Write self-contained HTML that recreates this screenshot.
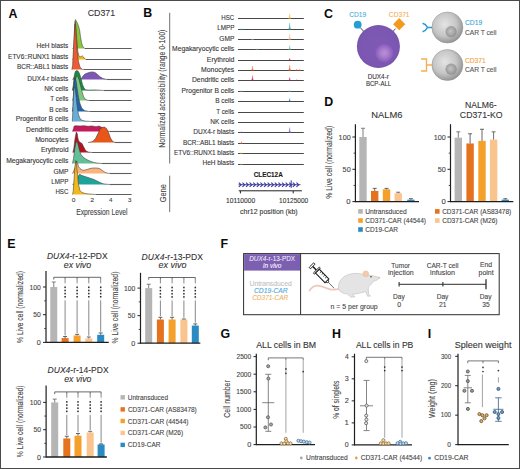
<!DOCTYPE html>
<html><head><meta charset="utf-8"><title>Figure</title>
<style>html,body{margin:0;padding:0;background:#fff;width:520px;height:469px;overflow:hidden}svg{display:block}text{font-family:"Liberation Sans", sans-serif}</style>
</head><body>
<svg width="520" height="469" viewBox="0 0 520 469" font-family="'Liberation Sans', sans-serif">
<rect x="0.00" y="0.00" width="520.00" height="469.00" fill="#fff" />
<text x="8.49" y="17.70" font-size="12.4" font-weight="bold" fill="#0a0a0a">A</text>
<text x="87.76" y="15.90" font-size="8.8" fill="#333" stroke="#333" stroke-width="0.1" >CD371</text>
<text x="36.58" y="48.20" font-size="6.8" fill="#333" textLength="31.75" lengthAdjust="spacingAndGlyphs" stroke="#333" stroke-width="0.1" >HeH blasts</text>
<text x="8.08" y="59.20" font-size="6.8" fill="#333" textLength="60.25" lengthAdjust="spacingAndGlyphs" stroke="#333" stroke-width="0.1" >ETV6::RUNX1 blasts</text>
<text x="16.99" y="69.40" font-size="6.8" fill="#333" textLength="51.33" lengthAdjust="spacingAndGlyphs" stroke="#333" stroke-width="0.1" >BCR::ABL1 blasts</text>
<text x="27.37" y="81.10" font-size="6.8" fill="#333" textLength="40.95" lengthAdjust="spacingAndGlyphs" stroke="#333" stroke-width="0.1" >DUX4-r blasts</text>
<text x="44.28" y="90.70" font-size="6.8" fill="#333" textLength="24.04" lengthAdjust="spacingAndGlyphs" stroke="#333" stroke-width="0.1" >NK cells</text>
<text x="50.37" y="101.30" font-size="6.8" fill="#333" textLength="17.95" lengthAdjust="spacingAndGlyphs" stroke="#333" stroke-width="0.1" >T cells</text>
<text x="49.28" y="111.80" font-size="6.8" fill="#333" textLength="19.05" lengthAdjust="spacingAndGlyphs" stroke="#333" stroke-width="0.1" >B cells</text>
<text x="15.66" y="121.40" font-size="6.8" fill="#333" textLength="52.69" lengthAdjust="spacingAndGlyphs" stroke="#333" stroke-width="0.1" >Progenitor B cells</text>
<text x="26.06" y="132.20" font-size="6.8" fill="#333" stroke="#333" stroke-width="0.1" >Dendritic cells</text>
<text x="35.15" y="141.90" font-size="6.8" fill="#333" textLength="33.19" lengthAdjust="spacingAndGlyphs" stroke="#333" stroke-width="0.1" >Monocytes</text>
<text x="40.95" y="152.40" font-size="6.8" fill="#333" textLength="27.58" lengthAdjust="spacingAndGlyphs" stroke="#333" stroke-width="0.1" >Erythroid</text>
<text x="6.16" y="162.80" font-size="6.8" fill="#333" textLength="62.18" lengthAdjust="spacingAndGlyphs" stroke="#333" stroke-width="0.1" >Megakaryocytic cells</text>
<text x="53.47" y="173.50" font-size="6.8" fill="#333" textLength="14.98" lengthAdjust="spacingAndGlyphs" stroke="#333" stroke-width="0.1" >GMP</text>
<text x="51.30" y="184.00" font-size="6.8" fill="#333" textLength="17.14" lengthAdjust="spacingAndGlyphs" stroke="#333" stroke-width="0.1" >LMPP</text>
<text x="55.41" y="193.70" font-size="6.8" fill="#333" textLength="12.91" lengthAdjust="spacingAndGlyphs" stroke="#333" stroke-width="0.1" >HSC</text>
<path d="M72.50,48.50 L74.30,47.50 L74.90,23.50 L75.40,19.50 L76.50,21.50 L78.00,24.50 L79.50,29.50 L80.50,36.50 L81.50,42.50 L82.50,46.00 L83.80,47.90 L85.00,48.50 L131.50,48.50 Z" fill="#8dc63f" stroke="none"/>
<path d="M72.50,48.50 L74.30,47.50 L74.90,23.50 L75.40,19.50 L76.50,21.50 L78.00,24.50 L79.50,29.50 L80.50,36.50 L81.50,42.50 L82.50,46.00 L83.80,47.90 L85.00,48.50 L131.50,48.50" fill="none" stroke="#3a3a3a" stroke-width="0.55" stroke-linejoin="round"/>
<line x1="85.00" y1="48.50" x2="131.40" y2="48.50" stroke="#5e5e5e" stroke-width="1.1" />
<path d="M72.50,59.50 L73.80,57.50 L74.60,29.50 L75.20,21.50 L75.80,25.50 L76.80,39.50 L77.80,51.50 L79.00,56.00 L80.00,57.00 L81.00,56.50 L82.30,55.90 L83.50,57.00 L84.50,58.50 L86.00,59.50 L131.50,59.50 Z" fill="#f6b81a" stroke="none"/>
<path d="M72.50,59.50 L73.80,57.50 L74.60,29.50 L75.20,21.50 L75.80,25.50 L76.80,39.50 L77.80,51.50 L79.00,56.00 L80.00,57.00 L81.00,56.50 L82.30,55.90 L83.50,57.00 L84.50,58.50 L86.00,59.50 L131.50,59.50" fill="none" stroke="#3a3a3a" stroke-width="0.55" stroke-linejoin="round"/>
<line x1="86.00" y1="59.50" x2="131.40" y2="59.50" stroke="#5e5e5e" stroke-width="1.1" />
<path d="M71.80,69.50 L72.60,65.50 L73.40,49.50 L74.10,35.50 L74.70,26.50 L75.10,24.00 L75.60,28.50 L76.30,39.50 L77.30,52.50 L78.50,61.50 L79.80,66.50 L81.00,68.50 L82.50,69.30 L84.00,69.50 L131.50,69.50 Z" fill="#ef5a32" stroke="none"/>
<path d="M71.80,69.50 L72.60,65.50 L73.40,49.50 L74.10,35.50 L74.70,26.50 L75.10,24.00 L75.60,28.50 L76.30,39.50 L77.30,52.50 L78.50,61.50 L79.80,66.50 L81.00,68.50 L82.50,69.30 L84.00,69.50 L131.50,69.50" fill="none" stroke="#3a3a3a" stroke-width="0.55" stroke-linejoin="round"/>
<line x1="84.00" y1="69.50" x2="131.40" y2="69.50" stroke="#5e5e5e" stroke-width="1.1" />
<path d="M72.50,79.50 L73.50,78.50 L74.50,76.50 L75.50,77.50 L77.00,78.50 L80.00,79.00 L81.50,78.50 L83.00,76.00 L85.00,74.00 L87.50,73.00 L90.00,72.20 L92.50,71.90 L95.00,72.50 L97.50,74.50 L100.00,76.70 L102.50,78.30 L105.00,79.10 L107.00,79.50 L131.50,79.50 Z" fill="#7e57b6" stroke="none"/>
<path d="M72.50,79.50 L73.50,78.50 L74.50,76.50 L75.50,77.50 L77.00,78.50 L80.00,79.00 L81.50,78.50 L83.00,76.00 L85.00,74.00 L87.50,73.00 L90.00,72.20 L92.50,71.90 L95.00,72.50 L97.50,74.50 L100.00,76.70 L102.50,78.30 L105.00,79.10 L107.00,79.50 L131.50,79.50" fill="none" stroke="#3a3a3a" stroke-width="0.55" stroke-linejoin="round"/>
<line x1="107.00" y1="79.50" x2="131.40" y2="79.50" stroke="#5e5e5e" stroke-width="1.1" />
<path d="M72.30,90.50 L73.30,85.50 L74.30,75.50 L75.30,71.50 L76.50,70.50 L78.00,71.00 L79.50,73.50 L81.00,78.50 L82.50,84.50 L84.00,88.00 L85.50,89.70 L88.00,90.10 L95.00,89.90 L100.00,90.20 L104.00,90.50 L131.50,90.50 Z" fill="#1b8a43" stroke="none"/>
<path d="M72.30,90.50 L73.30,85.50 L74.30,75.50 L75.30,71.50 L76.50,70.50 L78.00,71.00 L79.50,73.50 L81.00,78.50 L82.50,84.50 L84.00,88.00 L85.50,89.70 L88.00,90.10 L95.00,89.90 L100.00,90.20 L104.00,90.50 L131.50,90.50" fill="none" stroke="#3a3a3a" stroke-width="0.55" stroke-linejoin="round"/>
<line x1="104.00" y1="90.50" x2="131.40" y2="90.50" stroke="#5e5e5e" stroke-width="1.1" />
<path d="M72.50,100.50 L73.50,97.50 L74.50,87.50 L75.50,79.50 L76.50,76.00 L77.80,76.50 L79.00,79.50 L80.50,85.50 L82.00,91.50 L83.50,96.50 L85.00,99.00 L87.00,100.10 L89.00,100.50 L131.50,100.50 Z" fill="#7fc77e" stroke="none"/>
<path d="M72.50,100.50 L73.50,97.50 L74.50,87.50 L75.50,79.50 L76.50,76.00 L77.80,76.50 L79.00,79.50 L80.50,85.50 L82.00,91.50 L83.50,96.50 L85.00,99.00 L87.00,100.10 L89.00,100.50 L131.50,100.50" fill="none" stroke="#3a3a3a" stroke-width="0.55" stroke-linejoin="round"/>
<line x1="89.00" y1="100.50" x2="131.40" y2="100.50" stroke="#5e5e5e" stroke-width="1.1" />
<path d="M72.30,111.50 L73.00,106.50 L73.80,86.50 L74.50,78.50 L75.30,77.80 L76.20,81.50 L77.30,89.50 L78.50,97.50 L80.00,103.50 L81.50,107.50 L83.00,109.50 L85.00,110.70 L88.00,111.30 L90.00,111.50 L131.50,111.50 Z" fill="#2064aa" stroke="none"/>
<path d="M72.30,111.50 L73.00,106.50 L73.80,86.50 L74.50,78.50 L75.30,77.80 L76.20,81.50 L77.30,89.50 L78.50,97.50 L80.00,103.50 L81.50,107.50 L83.00,109.50 L85.00,110.70 L88.00,111.30 L90.00,111.50 L131.50,111.50" fill="none" stroke="#3a3a3a" stroke-width="0.55" stroke-linejoin="round"/>
<line x1="90.00" y1="111.50" x2="131.40" y2="111.50" stroke="#5e5e5e" stroke-width="1.1" />
<path d="M72.30,121.50 L72.80,111.50 L73.40,95.50 L74.00,88.50 L74.60,87.00 L75.30,89.50 L76.20,97.50 L77.30,107.50 L78.50,114.50 L80.00,118.50 L82.00,120.30 L85.00,121.10 L90.00,121.40 L92.00,121.50 L131.50,121.50 Z" fill="#69acd8" stroke="none"/>
<path d="M72.30,121.50 L72.80,111.50 L73.40,95.50 L74.00,88.50 L74.60,87.00 L75.30,89.50 L76.20,97.50 L77.30,107.50 L78.50,114.50 L80.00,118.50 L82.00,120.30 L85.00,121.10 L90.00,121.40 L92.00,121.50 L131.50,121.50" fill="none" stroke="#3a3a3a" stroke-width="0.55" stroke-linejoin="round"/>
<line x1="92.00" y1="121.50" x2="131.40" y2="121.50" stroke="#5e5e5e" stroke-width="1.1" />
<path d="M72.50,131.50 L73.50,128.50 L74.20,126.00 L76.00,125.70 L80.00,126.00 L84.00,125.70 L88.00,126.30 L92.00,125.90 L96.00,126.70 L99.00,126.00 L101.00,127.00 L103.00,128.00 L105.00,130.00 L107.00,131.00 L110.00,131.50 L131.50,131.50 Z" fill="#c51b5c" stroke="none"/>
<path d="M72.50,131.50 L73.50,128.50 L74.20,126.00 L76.00,125.70 L80.00,126.00 L84.00,125.70 L88.00,126.30 L92.00,125.90 L96.00,126.70 L99.00,126.00 L101.00,127.00 L103.00,128.00 L105.00,130.00 L107.00,131.00 L110.00,131.50 L131.50,131.50" fill="none" stroke="#3a3a3a" stroke-width="0.55" stroke-linejoin="round"/>
<line x1="110.00" y1="131.50" x2="131.40" y2="131.50" stroke="#5e5e5e" stroke-width="1.1" />
<path d="M88.00,142.50 L91.00,142.00 L93.00,141.30 L95.50,138.50 L98.00,133.50 L100.00,129.50 L102.00,127.50 L104.50,127.00 L106.50,128.50 L108.50,132.50 L110.50,138.00 L112.50,141.30 L115.00,142.50 L131.50,142.50 Z" fill="#e8561a" stroke="none"/>
<path d="M88.00,142.50 L91.00,142.00 L93.00,141.30 L95.50,138.50 L98.00,133.50 L100.00,129.50 L102.00,127.50 L104.50,127.00 L106.50,128.50 L108.50,132.50 L110.50,138.00 L112.50,141.30 L115.00,142.50 L131.50,142.50" fill="none" stroke="#3a3a3a" stroke-width="0.55" stroke-linejoin="round"/>
<line x1="115.00" y1="142.50" x2="131.40" y2="142.50" stroke="#5e5e5e" stroke-width="1.1" />
<path d="M72.80,152.50 L73.80,148.50 L75.00,138.50 L76.30,132.00 L77.20,133.50 L78.00,138.50 L79.00,141.50 L80.50,142.50 L82.00,143.50 L83.50,146.50 L85.00,149.50 L86.50,151.30 L88.50,152.10 L92.00,152.50 L131.50,152.50 Z" fill="#b5121f" stroke="none"/>
<path d="M72.80,152.50 L73.80,148.50 L75.00,138.50 L76.30,132.00 L77.20,133.50 L78.00,138.50 L79.00,141.50 L80.50,142.50 L82.00,143.50 L83.50,146.50 L85.00,149.50 L86.50,151.30 L88.50,152.10 L92.00,152.50 L131.50,152.50" fill="none" stroke="#3a3a3a" stroke-width="0.55" stroke-linejoin="round"/>
<line x1="92.00" y1="152.50" x2="131.40" y2="152.50" stroke="#5e5e5e" stroke-width="1.1" />
<path d="M72.50,163.50 L73.50,158.50 L74.80,148.50 L76.00,142.50 L77.20,141.50 L78.30,145.50 L79.50,150.50 L81.00,154.50 L83.00,157.00 L85.00,158.50 L88.00,160.20 L91.00,161.50 L94.00,162.50 L97.00,163.10 L100.00,163.30 L102.00,163.50 L131.50,163.50 Z" fill="#62bf98" stroke="none"/>
<path d="M72.50,163.50 L73.50,158.50 L74.80,148.50 L76.00,142.50 L77.20,141.50 L78.30,145.50 L79.50,150.50 L81.00,154.50 L83.00,157.00 L85.00,158.50 L88.00,160.20 L91.00,161.50 L94.00,162.50 L97.00,163.10 L100.00,163.30 L102.00,163.50 L131.50,163.50" fill="none" stroke="#3a3a3a" stroke-width="0.55" stroke-linejoin="round"/>
<line x1="102.00" y1="163.50" x2="131.40" y2="163.50" stroke="#5e5e5e" stroke-width="1.1" />
<path d="M72.50,173.50 L73.50,171.50 L75.00,167.50 L76.60,161.00 L77.40,162.50 L78.50,166.50 L80.00,168.50 L82.00,170.00 L84.00,170.30 L87.00,169.50 L90.00,168.50 L93.00,168.00 L96.00,168.00 L99.00,168.30 L101.00,169.50 L103.00,171.00 L105.00,172.30 L107.00,173.10 L110.00,173.50 L131.50,173.50 Z" fill="#fbb37c" stroke="none"/>
<path d="M72.50,173.50 L73.50,171.50 L75.00,167.50 L76.60,161.00 L77.40,162.50 L78.50,166.50 L80.00,168.50 L82.00,170.00 L84.00,170.30 L87.00,169.50 L90.00,168.50 L93.00,168.00 L96.00,168.00 L99.00,168.30 L101.00,169.50 L103.00,171.00 L105.00,172.30 L107.00,173.10 L110.00,173.50 L131.50,173.50" fill="none" stroke="#3a3a3a" stroke-width="0.55" stroke-linejoin="round"/>
<line x1="110.00" y1="173.50" x2="131.40" y2="173.50" stroke="#5e5e5e" stroke-width="1.1" />
<path d="M72.50,184.50 L74.50,183.50 L76.50,181.50 L77.50,179.50 L78.50,175.50 L79.50,174.20 L82.00,175.50 L85.00,176.50 L88.00,177.50 L91.00,178.50 L94.00,179.50 L97.00,181.00 L100.00,182.50 L103.00,183.70 L106.00,184.20 L110.00,184.50 L131.50,184.50 Z" fill="#1ea39a" stroke="none"/>
<path d="M72.50,184.50 L74.50,183.50 L76.50,181.50 L77.50,179.50 L78.50,175.50 L79.50,174.20 L82.00,175.50 L85.00,176.50 L88.00,177.50 L91.00,178.50 L94.00,179.50 L97.00,181.00 L100.00,182.50 L103.00,183.70 L106.00,184.20 L110.00,184.50 L131.50,184.50" fill="none" stroke="#3a3a3a" stroke-width="0.55" stroke-linejoin="round"/>
<line x1="110.00" y1="184.50" x2="131.40" y2="184.50" stroke="#5e5e5e" stroke-width="1.1" />
<path d="M72.50,194.50 L73.20,191.50 L74.00,179.50 L75.00,166.50 L75.80,160.50 L76.50,164.50 L77.50,174.50 L78.50,184.50 L80.00,190.50 L82.00,192.50 L85.00,193.50 L89.00,194.00 L93.00,194.30 L96.00,194.50 L131.50,194.50 Z" fill="#f3b91a" stroke="none"/>
<path d="M72.50,194.50 L73.20,191.50 L74.00,179.50 L75.00,166.50 L75.80,160.50 L76.50,164.50 L77.50,174.50 L78.50,184.50 L80.00,190.50 L82.00,192.50 L85.00,193.50 L89.00,194.00 L93.00,194.30 L96.00,194.50 L131.50,194.50" fill="none" stroke="#3a3a3a" stroke-width="0.55" stroke-linejoin="round"/>
<line x1="96.00" y1="194.50" x2="131.40" y2="194.50" stroke="#5e5e5e" stroke-width="1.1" />
<text x="71.87" y="202.30" font-size="6.2" fill="#444" textLength="3.67" lengthAdjust="spacingAndGlyphs" stroke="#444" stroke-width="0.1" >0</text>
<text x="90.25" y="202.30" font-size="6.2" fill="#444" textLength="3.87" lengthAdjust="spacingAndGlyphs" stroke="#444" stroke-width="0.1" >2</text>
<text x="109.07" y="202.30" font-size="6.2" fill="#444" textLength="3.49" lengthAdjust="spacingAndGlyphs" stroke="#444" stroke-width="0.1" >4</text>
<text x="127.77" y="202.30" font-size="6.2" fill="#444" textLength="3.71" lengthAdjust="spacingAndGlyphs" stroke="#444" stroke-width="0.1" >3</text>
<text x="76.16" y="214.90" font-size="8.7" fill="#444" textLength="51.45" lengthAdjust="spacingAndGlyphs" stroke="#444" stroke-width="0.1" >Expression Level</text>
<text x="143.19" y="16.50" font-size="12.4" font-weight="bold" fill="#0a0a0a">B</text>
<line x1="169.70" y1="12.80" x2="169.70" y2="163.50" stroke="#707070" stroke-width="1.0" />
<line x1="169.70" y1="175.70" x2="169.70" y2="212.10" stroke="#707070" stroke-width="1.0" />
<text x="0" y="0" font-size="8.2" fill="#444" textLength="117.95" lengthAdjust="spacingAndGlyphs" stroke="#444" stroke-width="0.1" transform="translate(164.80 147.65) rotate(-90)">Normalized accessibility (range 0-100)</text>
<text x="0" y="0" font-size="8.2" fill="#444" textLength="18.28" lengthAdjust="spacingAndGlyphs" stroke="#444" stroke-width="0.1" transform="translate(165.60 202.37) rotate(-90)">Gene</text>
<text x="221.31" y="20.10" font-size="6.8" fill="#333" textLength="12.91" lengthAdjust="spacingAndGlyphs" stroke="#333" stroke-width="0.1" >HSC</text>
<line x1="238.00" y1="18.50" x2="303.80" y2="18.50" stroke="#484848" stroke-width="1.0" />
<path d="M288.40,18.50 L289.25,17.00 L289.70,13.50 L290.15,17.00 L291.00,18.50 Z" fill="#f3b91a" stroke="#f3b91a" stroke-width="0.25" opacity="0.85"/>
<text x="217.20" y="30.48" font-size="6.8" fill="#333" textLength="17.14" lengthAdjust="spacingAndGlyphs" stroke="#333" stroke-width="0.1" >LMPP</text>
<line x1="238.00" y1="29.50" x2="303.80" y2="29.50" stroke="#484848" stroke-width="1.0" />
<path d="M288.40,29.50 L289.25,27.55 L289.70,23.00 L290.15,27.55 L291.00,29.50 Z" fill="#1ea39a" stroke="#1ea39a" stroke-width="0.25" opacity="0.85"/>
<path d="M240.20,29.50 L241.05,29.26 L241.50,28.70 L241.95,29.26 L242.80,29.50 Z" fill="#1ea39a" stroke="#1ea39a" stroke-width="0.25" opacity="0.85"/>
<text x="219.37" y="40.86" font-size="6.8" fill="#333" textLength="14.98" lengthAdjust="spacingAndGlyphs" stroke="#333" stroke-width="0.1" >GMP</text>
<line x1="238.00" y1="39.50" x2="303.80" y2="39.50" stroke="#484848" stroke-width="1.0" />
<path d="M288.40,39.50 L289.25,37.85 L289.70,34.00 L290.15,37.85 L291.00,39.50 Z" fill="#fbb37c" stroke="#fbb37c" stroke-width="0.25" opacity="0.85"/>
<path d="M251.20,39.50 L252.05,39.32 L252.50,38.90 L252.95,39.32 L253.80,39.50 Z" fill="#fbb37c" stroke="#fbb37c" stroke-width="0.25" opacity="0.85"/>
<text x="172.06" y="51.24" font-size="6.8" fill="#333" textLength="62.18" lengthAdjust="spacingAndGlyphs" stroke="#333" stroke-width="0.1" >Megakaryocytic cells</text>
<line x1="238.00" y1="49.50" x2="303.80" y2="49.50" stroke="#484848" stroke-width="1.0" />
<path d="M288.40,49.50 L289.25,48.30 L289.70,45.50 L290.15,48.30 L291.00,49.50 Z" fill="#62bf98" stroke="#62bf98" stroke-width="0.25" opacity="0.85"/>
<path d="M255.70,49.50 L256.55,49.29 L257.00,48.80 L257.45,49.29 L258.30,49.50 Z" fill="#62bf98" stroke="#62bf98" stroke-width="0.25" opacity="0.85"/>
<text x="206.85" y="61.62" font-size="6.8" fill="#333" textLength="27.58" lengthAdjust="spacingAndGlyphs" stroke="#333" stroke-width="0.1" >Erythroid</text>
<line x1="238.00" y1="60.50" x2="303.80" y2="60.50" stroke="#484848" stroke-width="1.0" />
<path d="M288.40,60.50 L289.25,59.84 L289.70,58.30 L290.15,59.84 L291.00,60.50 Z" fill="#b5121f" stroke="#b5121f" stroke-width="0.25" opacity="0.85"/>
<text x="201.05" y="72.00" font-size="6.8" fill="#333" textLength="33.19" lengthAdjust="spacingAndGlyphs" stroke="#333" stroke-width="0.1" >Monocytes</text>
<line x1="238.00" y1="70.50" x2="303.80" y2="70.50" stroke="#484848" stroke-width="1.0" />
<path d="M288.40,70.50 L289.25,68.85 L289.70,65.00 L290.15,68.85 L291.00,70.50 Z" fill="#e8561a" stroke="#e8561a" stroke-width="0.25" opacity="0.85"/>
<path d="M251.20,70.50 L252.05,69.15 L252.50,66.00 L252.95,69.15 L253.80,70.50 Z" fill="#e8561a" stroke="#e8561a" stroke-width="0.25" opacity="0.85"/>
<path d="M295.20,70.50 L296.05,70.11 L296.50,69.20 L296.95,70.11 L297.80,70.50 Z" fill="#e8561a" stroke="#e8561a" stroke-width="0.25" opacity="0.85"/>
<path d="M298.20,70.50 L299.05,70.11 L299.50,69.20 L299.95,70.11 L300.80,70.50 Z" fill="#e8561a" stroke="#e8561a" stroke-width="0.25" opacity="0.85"/>
<text x="191.96" y="82.38" font-size="6.8" fill="#333" stroke="#333" stroke-width="0.1" >Dendritic cells</text>
<line x1="238.00" y1="80.50" x2="303.80" y2="80.50" stroke="#484848" stroke-width="1.0" />
<path d="M288.40,80.50 L289.25,79.54 L289.70,77.30 L290.15,79.54 L291.00,80.50 Z" fill="#c51b5c" stroke="#c51b5c" stroke-width="0.25" opacity="0.85"/>
<path d="M251.20,80.50 L252.05,79.00 L252.50,75.50 L252.95,79.00 L253.80,80.50 Z" fill="#c51b5c" stroke="#c51b5c" stroke-width="0.25" opacity="0.85"/>
<path d="M295.20,80.50 L296.05,80.20 L296.50,79.50 L296.95,80.20 L297.80,80.50 Z" fill="#c51b5c" stroke="#c51b5c" stroke-width="0.25" opacity="0.85"/>
<text x="181.56" y="92.76" font-size="6.8" fill="#333" textLength="52.69" lengthAdjust="spacingAndGlyphs" stroke="#333" stroke-width="0.1" >Progenitor B cells</text>
<line x1="238.00" y1="91.50" x2="303.80" y2="91.50" stroke="#484848" stroke-width="1.0" />
<path d="M288.40,91.50 L289.25,91.14 L289.70,90.30 L290.15,91.14 L291.00,91.50 Z" fill="#69acd8" stroke="#69acd8" stroke-width="0.25" opacity="0.85"/>
<path d="M240.20,91.50 L241.05,91.20 L241.50,90.50 L241.95,91.20 L242.80,91.50 Z" fill="#69acd8" stroke="#69acd8" stroke-width="0.25" opacity="0.85"/>
<text x="215.18" y="103.14" font-size="6.8" fill="#333" textLength="19.05" lengthAdjust="spacingAndGlyphs" stroke="#333" stroke-width="0.1" >B cells</text>
<line x1="238.00" y1="101.50" x2="303.80" y2="101.50" stroke="#484848" stroke-width="1.0" />
<path d="M288.40,101.50 L289.25,100.60 L289.70,98.50 L290.15,100.60 L291.00,101.50 Z" fill="#2064aa" stroke="#2064aa" stroke-width="0.25" opacity="0.85"/>
<path d="M240.20,101.50 L241.05,101.32 L241.50,100.90 L241.95,101.32 L242.80,101.50 Z" fill="#2064aa" stroke="#2064aa" stroke-width="0.25" opacity="0.85"/>
<text x="216.27" y="113.52" font-size="6.8" fill="#333" textLength="17.95" lengthAdjust="spacingAndGlyphs" stroke="#333" stroke-width="0.1" >T cells</text>
<line x1="238.00" y1="112.50" x2="303.80" y2="112.50" stroke="#484848" stroke-width="1.0" />
<text x="210.18" y="123.90" font-size="6.8" fill="#333" textLength="24.04" lengthAdjust="spacingAndGlyphs" stroke="#333" stroke-width="0.1" >NK cells</text>
<line x1="238.00" y1="122.50" x2="303.80" y2="122.50" stroke="#484848" stroke-width="1.0" />
<text x="193.27" y="134.28" font-size="6.8" fill="#333" textLength="40.95" lengthAdjust="spacingAndGlyphs" stroke="#333" stroke-width="0.1" >DUX4-r blasts</text>
<line x1="238.00" y1="132.50" x2="303.80" y2="132.50" stroke="#484848" stroke-width="1.0" />
<path d="M288.40,132.50 L289.25,131.00 L289.70,127.50 L290.15,131.00 L291.00,132.50 Z" fill="#7e57b6" stroke="#7e57b6" stroke-width="0.25" opacity="0.85"/>
<path d="M240.20,132.50 L241.05,132.20 L241.50,131.50 L241.95,132.20 L242.80,132.50 Z" fill="#7e57b6" stroke="#7e57b6" stroke-width="0.25" opacity="0.85"/>
<text x="182.89" y="144.66" font-size="6.8" fill="#333" textLength="51.33" lengthAdjust="spacingAndGlyphs" stroke="#333" stroke-width="0.1" >BCR::ABL1 blasts</text>
<line x1="238.00" y1="143.50" x2="303.80" y2="143.50" stroke="#484848" stroke-width="1.0" />
<path d="M240.20,143.50 L241.05,142.90 L241.50,141.50 L241.95,142.90 L242.80,143.50 Z" fill="#ef5a32" stroke="#ef5a32" stroke-width="0.25" opacity="0.85"/>
<text x="173.98" y="155.04" font-size="6.8" fill="#333" textLength="60.25" lengthAdjust="spacingAndGlyphs" stroke="#333" stroke-width="0.1" >ETV6::RUNX1 blasts</text>
<line x1="238.00" y1="153.50" x2="303.80" y2="153.50" stroke="#484848" stroke-width="1.0" />
<path d="M240.20,153.50 L241.05,153.20 L241.50,152.50 L241.95,153.20 L242.80,153.50 Z" fill="#f6b81a" stroke="#f6b81a" stroke-width="0.25" opacity="0.85"/>
<text x="202.48" y="165.42" font-size="6.8" fill="#333" textLength="31.75" lengthAdjust="spacingAndGlyphs" stroke="#333" stroke-width="0.1" >HeH blasts</text>
<line x1="238.00" y1="164.50" x2="303.80" y2="164.50" stroke="#484848" stroke-width="1.0" />
<path d="M240.20,164.50 L241.05,164.26 L241.50,163.70 L241.95,164.26 L242.80,164.50 Z" fill="#8dc63f" stroke="#8dc63f" stroke-width="0.25" opacity="0.85"/>
<text x="253.64" y="176.90" font-size="6.4" fill="#1a1a1a" font-weight="bold" stroke="#1a1a1a" stroke-width="0.1" >CLEC12A</text>
<line x1="238.50" y1="184.70" x2="300.50" y2="184.70" stroke="#3a3a9c" stroke-width="0.9" />
<path d="M238.80,182.60 L241.10,184.70 L238.80,186.80 M242.40,182.60 L244.70,184.70 L242.40,186.80 M246.00,182.60 L248.30,184.70 L246.00,186.80 M249.60,182.60 L251.90,184.70 L249.60,186.80 M253.20,182.60 L255.50,184.70 L253.20,186.80 M256.80,182.60 L259.10,184.70 L256.80,186.80 M260.40,182.60 L262.70,184.70 L260.40,186.80 M264.00,182.60 L266.30,184.70 L264.00,186.80 M267.60,182.60 L269.90,184.70 L267.60,186.80 M271.20,182.60 L273.50,184.70 L271.20,186.80 M274.80,182.60 L277.10,184.70 L274.80,186.80 M278.40,182.60 L280.70,184.70 L278.40,186.80 M282.00,182.60 L284.30,184.70 L282.00,186.80 M285.60,182.60 L287.90,184.70 L285.60,186.80 M289.20,182.60 L291.50,184.70 L289.20,186.80 M292.80,182.60 L295.10,184.70 L292.80,186.80 M296.40,182.60 L298.70,184.70 L296.40,186.80" fill="none" stroke="#3a3a9c" stroke-width="1.15"/>
<line x1="291.20" y1="180.30" x2="291.20" y2="188.00" stroke="#3a3a9c" stroke-width="1.0" />
<line x1="238.80" y1="190.80" x2="301.90" y2="190.80" stroke="#222" stroke-width="1.0" />
<line x1="240.40" y1="190.80" x2="240.40" y2="193.40" stroke="#222" stroke-width="1.0" />
<line x1="293.20" y1="190.80" x2="293.20" y2="193.40" stroke="#222" stroke-width="1.0" />
<text x="226.00" y="203.10" font-size="7.1" fill="#333" textLength="29.24" lengthAdjust="spacingAndGlyphs" stroke="#333" stroke-width="0.1" >10110000</text>
<text x="279.11" y="203.10" font-size="7.1" fill="#333" textLength="29.12" lengthAdjust="spacingAndGlyphs" stroke="#333" stroke-width="0.1" >10125000</text>
<text x="240.12" y="213.80" font-size="7.5" fill="#333" textLength="57.57" lengthAdjust="spacingAndGlyphs" stroke="#333" stroke-width="0.1" >chr12 position (kb)</text>
<text x="324.10" y="17.80" font-size="12.4" font-weight="bold" fill="#0a0a0a">C</text>
<defs>
<radialGradient id="gPurp" cx="0.5" cy="0.5" r="0.5"><stop offset="0" stop-color="#7e5ab5"/><stop offset="0.9" stop-color="#7b57b2"/><stop offset="1" stop-color="#7452aa"/></radialGradient>
<radialGradient id="gNuc" cx="0.5" cy="0.5" r="0.5"><stop offset="0" stop-color="#ba92d4"/><stop offset="0.5" stop-color="#a67acb"/><stop offset="0.85" stop-color="#9163c2"/><stop offset="1" stop-color="#8a5dbc"/></radialGradient>
<radialGradient id="gGray" cx="0.42" cy="0.4" r="0.62"><stop offset="0" stop-color="#e4e4e4"/><stop offset="0.6" stop-color="#c6c6c6"/><stop offset="1" stop-color="#939393"/></radialGradient>
<radialGradient id="gGrayN" cx="0.45" cy="0.45" r="0.6"><stop offset="0" stop-color="#c4c4c4"/><stop offset="1" stop-color="#8f8f8f"/></radialGradient>
</defs>
<text x="349.17" y="16.80" font-size="6.9" fill="#4aaedf" textLength="16.94" lengthAdjust="spacingAndGlyphs" stroke="#4aaedf" stroke-width="0.1" >CD19</text>
<text x="388.87" y="16.80" font-size="6.9" fill="#f4b158" textLength="20.65" lengthAdjust="spacingAndGlyphs" stroke="#f4b158" stroke-width="0.1" >CD371</text>
<line x1="360.30" y1="27.60" x2="365.50" y2="33.40" stroke="#333" stroke-width="0.9" />
<line x1="395.60" y1="28.60" x2="391.20" y2="33.40" stroke="#333" stroke-width="0.9" />
<circle cx="378.40" cy="46.50" r="21.50" fill="url(#gPurp)" />
<circle cx="384.30" cy="53.10" r="9.00" fill="url(#gNuc)" />
<circle cx="357.70" cy="24.70" r="3.90" fill="#249fd6" />
<rect x="394.9" y="19.9" width="8.6" height="8.6" fill="#f29a1e" transform="rotate(45 399.2 24.2)"/>
<text x="367.69" y="78.50" font-size="7.0" fill="#333" textLength="21.20" lengthAdjust="spacingAndGlyphs" stroke="#333" stroke-width="0.1" >DUX4-r</text>
<text x="365.92" y="85.70" font-size="7.0" fill="#333" textLength="25.26" lengthAdjust="spacingAndGlyphs" stroke="#333" stroke-width="0.1" >BCP-ALL</text>
<circle cx="447.40" cy="27.50" r="15.50" fill="url(#gGray)" stroke="#8e8e8e" stroke-width="0.5"/>
<circle cx="451.10" cy="31.70" r="5.60" fill="url(#gGrayN)" />
<text x="464.96" y="25.00" font-size="6.7" fill="#3aa4d8" textLength="17.25" lengthAdjust="spacingAndGlyphs" stroke="#3aa4d8" stroke-width="0.1" >CD19</text>
<text x="464.97" y="34.50" font-size="6.7" fill="#555" textLength="31.55" lengthAdjust="spacingAndGlyphs" stroke="#555" stroke-width="0.1" >CAR T cell</text>
<circle cx="447.40" cy="65.00" r="15.50" fill="url(#gGray)" stroke="#8e8e8e" stroke-width="0.5"/>
<circle cx="451.10" cy="69.20" r="5.60" fill="url(#gGrayN)" />
<text x="464.96" y="62.50" font-size="6.7" fill="#f2a544" stroke="#f2a544" stroke-width="0.1" >CD371</text>
<text x="464.97" y="72.00" font-size="6.7" fill="#555" textLength="31.55" lengthAdjust="spacingAndGlyphs" stroke="#555" stroke-width="0.1" >CAR T cell</text>
<path d="M432,27.5 L427.5,27.5 M422.5,23.3 C424.5,23.8 426.5,25.5 427.5,27.5 C426.5,29.5 424.5,31.2 422.5,31.7" fill="none" stroke="#2b9bd0" stroke-width="1.6"/>
<path d="M432,65 L426.5,65 M421.0,59.0 L426.5,59.0 L426.5,71.0 L421.0,71.0" fill="none" stroke="#f3ae58" stroke-width="1.4"/>
<text x="324.19" y="106.00" font-size="12.4" font-weight="bold" fill="#0a0a0a">D</text>
<text x="371.35" y="118.40" font-size="9.0" fill="#333" textLength="31.22" lengthAdjust="spacingAndGlyphs" stroke="#333" stroke-width="0.1" >NALM6</text>
<text x="464.91" y="108.10" font-size="9.0" fill="#333" textLength="31.76" lengthAdjust="spacingAndGlyphs" stroke="#333" stroke-width="0.1" >NALM6-</text>
<text x="459.86" y="118.10" font-size="9.0" fill="#333" textLength="42.63" lengthAdjust="spacingAndGlyphs" stroke="#333" stroke-width="0.1" >CD371-KO</text>
<text x="0" y="0" font-size="8.8" fill="#444" textLength="72.95" lengthAdjust="spacingAndGlyphs" stroke="#444" stroke-width="0.1" transform="translate(332.20 198.74) rotate(-90)">% Live cell (normalized)</text>
<rect x="359.30" y="137.00" width="7.40" height="64.60" fill="#b5b5b5" />
<line x1="363.00" y1="137.00" x2="363.00" y2="128.28" stroke="#707070" stroke-width="0.9" />
<line x1="361.00" y1="128.28" x2="365.00" y2="128.28" stroke="#707070" stroke-width="0.9" />
<rect x="371.00" y="190.94" width="7.40" height="10.66" fill="#e5731e" />
<line x1="374.70" y1="190.94" x2="374.70" y2="188.36" stroke="#555555" stroke-width="0.9" />
<line x1="372.70" y1="188.36" x2="376.70" y2="188.36" stroke="#555555" stroke-width="0.9" />
<rect x="382.80" y="189.33" width="7.40" height="12.27" fill="#f5a02a" />
<line x1="386.50" y1="189.33" x2="386.50" y2="188.36" stroke="#555555" stroke-width="0.9" />
<line x1="384.50" y1="188.36" x2="388.50" y2="188.36" stroke="#555555" stroke-width="0.9" />
<rect x="394.50" y="193.20" width="7.40" height="8.40" fill="#fac48e" />
<line x1="398.20" y1="193.20" x2="398.20" y2="192.23" stroke="#606060" stroke-width="0.9" />
<line x1="396.20" y1="192.23" x2="400.20" y2="192.23" stroke="#606060" stroke-width="0.9" />
<rect x="407.20" y="199.66" width="7.40" height="1.94" fill="#2a8bc2" />
<line x1="410.90" y1="199.66" x2="410.90" y2="198.69" stroke="#555555" stroke-width="0.9" />
<line x1="408.90" y1="198.69" x2="412.90" y2="198.69" stroke="#555555" stroke-width="0.9" />
<line x1="355.40" y1="124.20" x2="355.40" y2="202.20" stroke="#1e1e1e" stroke-width="1.2" />
<line x1="352.40" y1="201.60" x2="355.40" y2="201.60" stroke="#222" stroke-width="1.0" />
<text x="346.38" y="204.21" font-size="6.7" fill="#444" textLength="4.30" lengthAdjust="spacingAndGlyphs" stroke="#444" stroke-width="0.1" >0</text>
<line x1="352.40" y1="169.30" x2="355.40" y2="169.30" stroke="#222" stroke-width="1.0" />
<text x="342.61" y="171.91" font-size="6.7" fill="#444" textLength="8.06" lengthAdjust="spacingAndGlyphs" stroke="#444" stroke-width="0.1" >50</text>
<line x1="352.40" y1="137.00" x2="355.40" y2="137.00" stroke="#222" stroke-width="1.0" />
<text x="338.61" y="139.61" font-size="6.7" fill="#444" textLength="12.07" lengthAdjust="spacingAndGlyphs" stroke="#444" stroke-width="0.1" >100</text>
<line x1="353.60" y1="185.45" x2="355.40" y2="185.45" stroke="#222" stroke-width="0.8" />
<line x1="353.60" y1="153.15" x2="355.40" y2="153.15" stroke="#222" stroke-width="0.8" />
<line x1="355.40" y1="201.60" x2="419.00" y2="201.60" stroke="#1e1e1e" stroke-width="1.3" />
<rect x="454.60" y="137.65" width="7.40" height="63.95" fill="#b5b5b5" />
<line x1="458.30" y1="137.65" x2="458.30" y2="131.83" stroke="#707070" stroke-width="0.9" />
<line x1="456.30" y1="131.83" x2="460.30" y2="131.83" stroke="#707070" stroke-width="0.9" />
<rect x="466.40" y="143.46" width="7.40" height="58.14" fill="#e5731e" />
<line x1="470.10" y1="143.46" x2="470.10" y2="133.77" stroke="#555555" stroke-width="0.9" />
<line x1="468.10" y1="133.77" x2="472.10" y2="133.77" stroke="#555555" stroke-width="0.9" />
<rect x="478.30" y="140.88" width="7.40" height="60.72" fill="#f5a02a" />
<line x1="482.00" y1="140.88" x2="482.00" y2="129.25" stroke="#555555" stroke-width="0.9" />
<line x1="480.00" y1="129.25" x2="484.00" y2="129.25" stroke="#555555" stroke-width="0.9" />
<rect x="489.90" y="139.58" width="7.40" height="62.02" fill="#fac48e" />
<line x1="493.60" y1="139.58" x2="493.60" y2="131.83" stroke="#606060" stroke-width="0.9" />
<line x1="491.60" y1="131.83" x2="495.60" y2="131.83" stroke="#606060" stroke-width="0.9" />
<rect x="501.60" y="199.66" width="7.40" height="1.94" fill="#2a8bc2" />
<line x1="505.30" y1="199.66" x2="505.30" y2="198.69" stroke="#555555" stroke-width="0.9" />
<line x1="503.30" y1="198.69" x2="507.30" y2="198.69" stroke="#555555" stroke-width="0.9" />
<line x1="450.50" y1="124.20" x2="450.50" y2="202.20" stroke="#1e1e1e" stroke-width="1.2" />
<line x1="447.50" y1="201.60" x2="450.50" y2="201.60" stroke="#222" stroke-width="1.0" />
<text x="441.48" y="204.21" font-size="6.7" fill="#444" textLength="4.30" lengthAdjust="spacingAndGlyphs" stroke="#444" stroke-width="0.1" >0</text>
<line x1="447.50" y1="169.30" x2="450.50" y2="169.30" stroke="#222" stroke-width="1.0" />
<text x="437.71" y="171.91" font-size="6.7" fill="#444" textLength="8.06" lengthAdjust="spacingAndGlyphs" stroke="#444" stroke-width="0.1" >50</text>
<line x1="447.50" y1="137.00" x2="450.50" y2="137.00" stroke="#222" stroke-width="1.0" />
<text x="433.71" y="139.61" font-size="6.7" fill="#444" textLength="12.07" lengthAdjust="spacingAndGlyphs" stroke="#444" stroke-width="0.1" >100</text>
<line x1="448.70" y1="185.45" x2="450.50" y2="185.45" stroke="#222" stroke-width="0.8" />
<line x1="448.70" y1="153.15" x2="450.50" y2="153.15" stroke="#222" stroke-width="0.8" />
<line x1="450.50" y1="201.60" x2="513.30" y2="201.60" stroke="#1e1e1e" stroke-width="1.3" />
<rect x="358.20" y="209.10" width="4.60" height="4.60" fill="#b5b5b5" />
<text x="365.20" y="213.80" font-size="6.9" fill="#444" textLength="41.41" lengthAdjust="spacingAndGlyphs" stroke="#444" stroke-width="0.1" >Untransduced</text>
<rect x="435.00" y="209.10" width="4.60" height="4.60" fill="#e5731e" />
<text x="442.17" y="213.80" font-size="6.9" fill="#444" textLength="69.09" lengthAdjust="spacingAndGlyphs" stroke="#444" stroke-width="0.1" >CD371-CAR (AS83478)</text>
<rect x="358.20" y="218.20" width="4.60" height="4.60" fill="#f5a02a" />
<text x="365.37" y="222.90" font-size="6.9" fill="#444" textLength="60.70" lengthAdjust="spacingAndGlyphs" stroke="#444" stroke-width="0.1" >CD371-CAR (44544)</text>
<rect x="435.00" y="218.20" width="4.60" height="4.60" fill="#fac48e" />
<text x="442.17" y="222.90" font-size="6.9" fill="#444" textLength="55.30" lengthAdjust="spacingAndGlyphs" stroke="#444" stroke-width="0.1" >CD371-CAR (M26)</text>
<rect x="358.20" y="227.20" width="4.60" height="4.60" fill="#2a8bc2" />
<text x="365.37" y="231.90" font-size="6.9" fill="#444" textLength="32.59" lengthAdjust="spacingAndGlyphs" stroke="#444" stroke-width="0.1" >CD19-CAR</text>
<text x="7.29" y="247.80" font-size="12.4" font-weight="bold" fill="#0a0a0a">E</text>
<text x="0" y="0" font-size="8.8" fill="#444" textLength="72.05" lengthAdjust="spacingAndGlyphs" stroke="#444" stroke-width="0.1" transform="translate(22.80 343.04) rotate(-90)">% Live cell (normalized)</text>
<text x="0" y="0" font-size="8.8" fill="#444" textLength="71.84" lengthAdjust="spacingAndGlyphs" stroke="#444" stroke-width="0.1" transform="translate(117.90 343.44) rotate(-90)">% Live cell (normalized)</text>
<text x="0" y="0" font-size="8.8" fill="#444" textLength="71.64" lengthAdjust="spacingAndGlyphs" stroke="#444" stroke-width="0.1" transform="translate(22.80 457.24) rotate(-90)">% Live cell (normalized)</text>
<text x="46.95" y="258.50" font-size="8.3" fill="#333" font-style="italic" textLength="22.58" lengthAdjust="spacingAndGlyphs" stroke="#333" stroke-width="0.1">DUX4</text>
<text x="69.53" y="258.50" font-size="8.3" fill="#333" textLength="38.10" lengthAdjust="spacingAndGlyphs" stroke="#333" stroke-width="0.1">-r-12-PDX</text>
<text x="63.74" y="267.50" font-size="8.3" fill="#333" font-style="italic" textLength="27.45" lengthAdjust="spacingAndGlyphs" stroke="#333" stroke-width="0.1" >ex vivo</text>
<rect x="50.25" y="287.00" width="7.00" height="55.40" fill="#b5b5b5" />
<line x1="53.75" y1="287.00" x2="53.75" y2="282.01" stroke="#707070" stroke-width="0.9" />
<line x1="51.75" y1="282.01" x2="55.75" y2="282.01" stroke="#707070" stroke-width="0.9" />
<rect x="61.60" y="338.08" width="7.00" height="4.32" fill="#e5731e" />
<line x1="65.10" y1="338.08" x2="65.10" y2="336.53" stroke="#555555" stroke-width="0.9" />
<line x1="63.10" y1="336.53" x2="67.10" y2="336.53" stroke="#555555" stroke-width="0.9" />
<rect x="73.60" y="335.53" width="7.00" height="6.87" fill="#f5a02a" />
<line x1="77.10" y1="335.53" x2="77.10" y2="334.37" stroke="#555555" stroke-width="0.9" />
<line x1="75.10" y1="334.37" x2="79.10" y2="334.37" stroke="#555555" stroke-width="0.9" />
<rect x="85.30" y="338.41" width="7.00" height="3.99" fill="#fac48e" />
<line x1="88.80" y1="338.41" x2="88.80" y2="336.97" stroke="#606060" stroke-width="0.9" />
<line x1="86.80" y1="336.97" x2="90.80" y2="336.97" stroke="#606060" stroke-width="0.9" />
<rect x="97.20" y="334.81" width="7.00" height="7.59" fill="#2a8bc2" />
<line x1="100.70" y1="334.81" x2="100.70" y2="332.93" stroke="#555555" stroke-width="0.9" />
<line x1="98.70" y1="332.93" x2="102.70" y2="332.93" stroke="#555555" stroke-width="0.9" />
<line x1="46.00" y1="271.00" x2="46.00" y2="343.00" stroke="#1e1e1e" stroke-width="1.2" />
<line x1="43.00" y1="342.40" x2="46.00" y2="342.40" stroke="#222" stroke-width="1.0" />
<text x="36.85" y="345.01" font-size="6.7" fill="#444" textLength="4.01" lengthAdjust="spacingAndGlyphs" stroke="#444" stroke-width="0.1" >0</text>
<line x1="43.00" y1="314.70" x2="46.00" y2="314.70" stroke="#222" stroke-width="1.0" />
<text x="33.33" y="317.31" font-size="6.7" fill="#444" textLength="7.52" lengthAdjust="spacingAndGlyphs" stroke="#444" stroke-width="0.1" >50</text>
<line x1="43.00" y1="287.00" x2="46.00" y2="287.00" stroke="#222" stroke-width="1.0" />
<text x="29.59" y="289.61" font-size="6.7" fill="#444" textLength="11.27" lengthAdjust="spacingAndGlyphs" stroke="#444" stroke-width="0.1" >100</text>
<line x1="44.20" y1="328.55" x2="46.00" y2="328.55" stroke="#222" stroke-width="0.8" />
<line x1="44.20" y1="300.85" x2="46.00" y2="300.85" stroke="#222" stroke-width="0.8" />
<line x1="46.00" y1="342.40" x2="108.80" y2="342.40" stroke="#1e1e1e" stroke-width="1.3" />
<line x1="53.75" y1="277.30" x2="100.70" y2="277.30" stroke="#444" stroke-width="0.8" />
<line x1="53.75" y1="277.30" x2="53.75" y2="279.50" stroke="#444" stroke-width="0.8" />
<line x1="65.10" y1="277.30" x2="65.10" y2="279.50" stroke="#444" stroke-width="0.8" />
<line x1="77.10" y1="277.30" x2="77.10" y2="279.50" stroke="#444" stroke-width="0.8" />
<line x1="88.80" y1="277.30" x2="88.80" y2="279.50" stroke="#444" stroke-width="0.8" />
<line x1="100.70" y1="277.30" x2="100.70" y2="279.50" stroke="#444" stroke-width="0.8" />
<line x1="65.10" y1="279.50" x2="65.10" y2="283.10" stroke="#606060" stroke-width="0.75" />
<line x1="65.10" y1="300.35" x2="65.10" y2="335.33" stroke="#606060" stroke-width="0.75" />
<line x1="65.10" y1="283.10" x2="65.10" y2="300.35" stroke="#bbbbbb" stroke-width="0.5" stroke-dasharray="0.8,0.8"/>
<rect x="64.35" y="286.55" width="1.50" height="1.50" fill="#2a2a2a" />
<rect x="64.35" y="289.70" width="1.50" height="1.50" fill="#2a2a2a" />
<rect x="64.35" y="292.85" width="1.50" height="1.50" fill="#2a2a2a" />
<rect x="64.35" y="296.00" width="1.50" height="1.50" fill="#2a2a2a" />
<line x1="77.10" y1="279.50" x2="77.10" y2="283.10" stroke="#606060" stroke-width="0.75" />
<line x1="77.10" y1="300.35" x2="77.10" y2="333.17" stroke="#606060" stroke-width="0.75" />
<line x1="77.10" y1="283.10" x2="77.10" y2="300.35" stroke="#bbbbbb" stroke-width="0.5" stroke-dasharray="0.8,0.8"/>
<rect x="76.35" y="286.55" width="1.50" height="1.50" fill="#2a2a2a" />
<rect x="76.35" y="289.70" width="1.50" height="1.50" fill="#2a2a2a" />
<rect x="76.35" y="292.85" width="1.50" height="1.50" fill="#2a2a2a" />
<rect x="76.35" y="296.00" width="1.50" height="1.50" fill="#2a2a2a" />
<line x1="88.80" y1="279.50" x2="88.80" y2="283.10" stroke="#606060" stroke-width="0.75" />
<line x1="88.80" y1="300.35" x2="88.80" y2="335.77" stroke="#606060" stroke-width="0.75" />
<line x1="88.80" y1="283.10" x2="88.80" y2="300.35" stroke="#bbbbbb" stroke-width="0.5" stroke-dasharray="0.8,0.8"/>
<rect x="88.05" y="286.55" width="1.50" height="1.50" fill="#2a2a2a" />
<rect x="88.05" y="289.70" width="1.50" height="1.50" fill="#2a2a2a" />
<rect x="88.05" y="292.85" width="1.50" height="1.50" fill="#2a2a2a" />
<rect x="88.05" y="296.00" width="1.50" height="1.50" fill="#2a2a2a" />
<line x1="100.70" y1="279.50" x2="100.70" y2="283.10" stroke="#606060" stroke-width="0.75" />
<line x1="100.70" y1="300.35" x2="100.70" y2="331.73" stroke="#606060" stroke-width="0.75" />
<line x1="100.70" y1="283.10" x2="100.70" y2="300.35" stroke="#bbbbbb" stroke-width="0.5" stroke-dasharray="0.8,0.8"/>
<rect x="99.95" y="286.55" width="1.50" height="1.50" fill="#2a2a2a" />
<rect x="99.95" y="289.70" width="1.50" height="1.50" fill="#2a2a2a" />
<rect x="99.95" y="292.85" width="1.50" height="1.50" fill="#2a2a2a" />
<rect x="99.95" y="296.00" width="1.50" height="1.50" fill="#2a2a2a" />
<text x="141.64" y="259.50" font-size="8.3" fill="#333" font-style="italic" textLength="22.81" lengthAdjust="spacingAndGlyphs" stroke="#333" stroke-width="0.1">DUX4</text>
<text x="164.45" y="259.50" font-size="8.3" fill="#333" textLength="38.48" lengthAdjust="spacingAndGlyphs" stroke="#333" stroke-width="0.1">-r-13-PDX</text>
<text x="158.53" y="268.20" font-size="8.3" fill="#333" font-style="italic" textLength="27.96" lengthAdjust="spacingAndGlyphs" stroke="#333" stroke-width="0.1" >ex vivo</text>
<rect x="145.20" y="288.10" width="7.00" height="55.10" fill="#b5b5b5" />
<line x1="148.70" y1="288.10" x2="148.70" y2="284.24" stroke="#707070" stroke-width="0.9" />
<line x1="146.70" y1="284.24" x2="150.70" y2="284.24" stroke="#707070" stroke-width="0.9" />
<rect x="156.90" y="319.51" width="7.00" height="23.69" fill="#e5731e" />
<line x1="160.40" y1="319.51" x2="160.40" y2="317.30" stroke="#555555" stroke-width="0.9" />
<line x1="158.40" y1="317.30" x2="162.40" y2="317.30" stroke="#555555" stroke-width="0.9" />
<rect x="168.60" y="319.51" width="7.00" height="23.69" fill="#f5a02a" />
<line x1="172.10" y1="319.51" x2="172.10" y2="317.30" stroke="#555555" stroke-width="0.9" />
<line x1="170.10" y1="317.30" x2="174.10" y2="317.30" stroke="#555555" stroke-width="0.9" />
<rect x="180.40" y="319.51" width="7.00" height="23.69" fill="#fac48e" />
<line x1="183.90" y1="319.51" x2="183.90" y2="318.96" stroke="#606060" stroke-width="0.9" />
<line x1="181.90" y1="318.96" x2="185.90" y2="318.96" stroke="#606060" stroke-width="0.9" />
<rect x="191.80" y="325.57" width="7.00" height="17.63" fill="#2a8bc2" />
<line x1="195.30" y1="325.57" x2="195.30" y2="323.91" stroke="#555555" stroke-width="0.9" />
<line x1="193.30" y1="323.91" x2="197.30" y2="323.91" stroke="#555555" stroke-width="0.9" />
<line x1="140.50" y1="272.80" x2="140.50" y2="343.80" stroke="#1e1e1e" stroke-width="1.2" />
<line x1="137.50" y1="343.20" x2="140.50" y2="343.20" stroke="#222" stroke-width="1.0" />
<text x="131.35" y="345.81" font-size="6.7" fill="#444" textLength="4.01" lengthAdjust="spacingAndGlyphs" stroke="#444" stroke-width="0.1" >0</text>
<line x1="137.50" y1="315.65" x2="140.50" y2="315.65" stroke="#222" stroke-width="1.0" />
<text x="127.83" y="318.26" font-size="6.7" fill="#444" textLength="7.52" lengthAdjust="spacingAndGlyphs" stroke="#444" stroke-width="0.1" >50</text>
<line x1="137.50" y1="288.10" x2="140.50" y2="288.10" stroke="#222" stroke-width="1.0" />
<text x="124.09" y="290.71" font-size="6.7" fill="#444" textLength="11.27" lengthAdjust="spacingAndGlyphs" stroke="#444" stroke-width="0.1" >100</text>
<line x1="138.70" y1="329.43" x2="140.50" y2="329.43" stroke="#222" stroke-width="0.8" />
<line x1="138.70" y1="301.88" x2="140.50" y2="301.88" stroke="#222" stroke-width="0.8" />
<line x1="140.50" y1="343.20" x2="200.30" y2="343.20" stroke="#1e1e1e" stroke-width="1.3" />
<line x1="148.70" y1="277.50" x2="195.30" y2="277.50" stroke="#444" stroke-width="0.8" />
<line x1="148.70" y1="277.50" x2="148.70" y2="279.70" stroke="#444" stroke-width="0.8" />
<line x1="160.40" y1="277.50" x2="160.40" y2="279.70" stroke="#444" stroke-width="0.8" />
<line x1="172.10" y1="277.50" x2="172.10" y2="279.70" stroke="#444" stroke-width="0.8" />
<line x1="183.90" y1="277.50" x2="183.90" y2="279.70" stroke="#444" stroke-width="0.8" />
<line x1="195.30" y1="277.50" x2="195.30" y2="279.70" stroke="#444" stroke-width="0.8" />
<line x1="160.40" y1="279.70" x2="160.40" y2="283.30" stroke="#606060" stroke-width="0.75" />
<line x1="160.40" y1="300.55" x2="160.40" y2="316.10" stroke="#606060" stroke-width="0.75" />
<line x1="160.40" y1="283.30" x2="160.40" y2="300.55" stroke="#bbbbbb" stroke-width="0.5" stroke-dasharray="0.8,0.8"/>
<rect x="159.65" y="286.75" width="1.50" height="1.50" fill="#2a2a2a" />
<rect x="159.65" y="289.90" width="1.50" height="1.50" fill="#2a2a2a" />
<rect x="159.65" y="293.05" width="1.50" height="1.50" fill="#2a2a2a" />
<rect x="159.65" y="296.20" width="1.50" height="1.50" fill="#2a2a2a" />
<line x1="172.10" y1="279.70" x2="172.10" y2="283.30" stroke="#606060" stroke-width="0.75" />
<line x1="172.10" y1="300.55" x2="172.10" y2="316.10" stroke="#606060" stroke-width="0.75" />
<line x1="172.10" y1="283.30" x2="172.10" y2="300.55" stroke="#bbbbbb" stroke-width="0.5" stroke-dasharray="0.8,0.8"/>
<rect x="171.35" y="286.75" width="1.50" height="1.50" fill="#2a2a2a" />
<rect x="171.35" y="289.90" width="1.50" height="1.50" fill="#2a2a2a" />
<rect x="171.35" y="293.05" width="1.50" height="1.50" fill="#2a2a2a" />
<rect x="171.35" y="296.20" width="1.50" height="1.50" fill="#2a2a2a" />
<line x1="183.90" y1="279.70" x2="183.90" y2="283.30" stroke="#606060" stroke-width="0.75" />
<line x1="183.90" y1="300.55" x2="183.90" y2="317.76" stroke="#606060" stroke-width="0.75" />
<line x1="183.90" y1="283.30" x2="183.90" y2="300.55" stroke="#bbbbbb" stroke-width="0.5" stroke-dasharray="0.8,0.8"/>
<rect x="183.15" y="286.75" width="1.50" height="1.50" fill="#2a2a2a" />
<rect x="183.15" y="289.90" width="1.50" height="1.50" fill="#2a2a2a" />
<rect x="183.15" y="293.05" width="1.50" height="1.50" fill="#2a2a2a" />
<rect x="183.15" y="296.20" width="1.50" height="1.50" fill="#2a2a2a" />
<line x1="195.30" y1="279.70" x2="195.30" y2="283.30" stroke="#606060" stroke-width="0.75" />
<line x1="195.30" y1="300.55" x2="195.30" y2="322.71" stroke="#606060" stroke-width="0.75" />
<line x1="195.30" y1="283.30" x2="195.30" y2="300.55" stroke="#bbbbbb" stroke-width="0.5" stroke-dasharray="0.8,0.8"/>
<rect x="194.55" y="286.75" width="1.50" height="1.50" fill="#2a2a2a" />
<rect x="194.55" y="289.90" width="1.50" height="1.50" fill="#2a2a2a" />
<rect x="194.55" y="293.05" width="1.50" height="1.50" fill="#2a2a2a" />
<rect x="194.55" y="296.20" width="1.50" height="1.50" fill="#2a2a2a" />
<text x="47.64" y="372.70" font-size="8.3" fill="#333" font-style="italic" textLength="22.70" lengthAdjust="spacingAndGlyphs" stroke="#333" stroke-width="0.1">DUX4</text>
<text x="70.34" y="372.70" font-size="8.3" fill="#333" textLength="38.29" lengthAdjust="spacingAndGlyphs" stroke="#333" stroke-width="0.1">-r-14-PDX</text>
<text x="64.24" y="381.60" font-size="8.3" fill="#333" font-style="italic" textLength="27.25" lengthAdjust="spacingAndGlyphs" stroke="#333" stroke-width="0.1" >ex vivo</text>
<rect x="51.20" y="402.40" width="7.00" height="54.60" fill="#b5b5b5" />
<line x1="54.70" y1="402.40" x2="54.70" y2="399.12" stroke="#707070" stroke-width="0.9" />
<line x1="52.70" y1="399.12" x2="56.70" y2="399.12" stroke="#707070" stroke-width="0.9" />
<rect x="63.30" y="438.44" width="7.00" height="18.56" fill="#e5731e" />
<line x1="66.80" y1="438.44" x2="66.80" y2="436.25" stroke="#555555" stroke-width="0.9" />
<line x1="64.80" y1="436.25" x2="68.80" y2="436.25" stroke="#555555" stroke-width="0.9" />
<rect x="74.50" y="435.71" width="7.00" height="21.29" fill="#f5a02a" />
<line x1="78.00" y1="435.71" x2="78.00" y2="433.52" stroke="#555555" stroke-width="0.9" />
<line x1="76.00" y1="433.52" x2="80.00" y2="433.52" stroke="#555555" stroke-width="0.9" />
<rect x="86.70" y="432.43" width="7.00" height="24.57" fill="#fac48e" />
<line x1="90.20" y1="432.43" x2="90.20" y2="431.34" stroke="#606060" stroke-width="0.9" />
<line x1="88.20" y1="431.34" x2="92.20" y2="431.34" stroke="#606060" stroke-width="0.9" />
<rect x="97.60" y="444.44" width="7.00" height="12.56" fill="#2a8bc2" />
<line x1="101.10" y1="444.44" x2="101.10" y2="443.90" stroke="#555555" stroke-width="0.9" />
<line x1="99.10" y1="443.90" x2="103.10" y2="443.90" stroke="#555555" stroke-width="0.9" />
<line x1="46.10" y1="385.40" x2="46.10" y2="457.60" stroke="#1e1e1e" stroke-width="1.2" />
<line x1="43.10" y1="457.00" x2="46.10" y2="457.00" stroke="#222" stroke-width="1.0" />
<text x="36.95" y="459.61" font-size="6.7" fill="#444" textLength="4.01" lengthAdjust="spacingAndGlyphs" stroke="#444" stroke-width="0.1" >0</text>
<line x1="43.10" y1="429.70" x2="46.10" y2="429.70" stroke="#222" stroke-width="1.0" />
<text x="33.43" y="432.31" font-size="6.7" fill="#444" textLength="7.52" lengthAdjust="spacingAndGlyphs" stroke="#444" stroke-width="0.1" >50</text>
<line x1="43.10" y1="402.40" x2="46.10" y2="402.40" stroke="#222" stroke-width="1.0" />
<text x="29.69" y="405.01" font-size="6.7" fill="#444" textLength="11.27" lengthAdjust="spacingAndGlyphs" stroke="#444" stroke-width="0.1" >100</text>
<line x1="44.30" y1="443.35" x2="46.10" y2="443.35" stroke="#222" stroke-width="0.8" />
<line x1="44.30" y1="416.05" x2="46.10" y2="416.05" stroke="#222" stroke-width="0.8" />
<line x1="46.10" y1="457.00" x2="106.90" y2="457.00" stroke="#1e1e1e" stroke-width="1.3" />
<line x1="54.70" y1="391.90" x2="101.10" y2="391.90" stroke="#444" stroke-width="0.8" />
<line x1="54.70" y1="391.90" x2="54.70" y2="394.10" stroke="#444" stroke-width="0.8" />
<line x1="66.80" y1="391.90" x2="66.80" y2="394.10" stroke="#444" stroke-width="0.8" />
<line x1="78.00" y1="391.90" x2="78.00" y2="394.10" stroke="#444" stroke-width="0.8" />
<line x1="90.20" y1="391.90" x2="90.20" y2="394.10" stroke="#444" stroke-width="0.8" />
<line x1="101.10" y1="391.90" x2="101.10" y2="394.10" stroke="#444" stroke-width="0.8" />
<line x1="66.80" y1="394.10" x2="66.80" y2="397.70" stroke="#606060" stroke-width="0.75" />
<line x1="66.80" y1="414.95" x2="66.80" y2="435.05" stroke="#606060" stroke-width="0.75" />
<line x1="66.80" y1="397.70" x2="66.80" y2="414.95" stroke="#bbbbbb" stroke-width="0.5" stroke-dasharray="0.8,0.8"/>
<rect x="66.05" y="401.15" width="1.50" height="1.50" fill="#2a2a2a" />
<rect x="66.05" y="404.30" width="1.50" height="1.50" fill="#2a2a2a" />
<rect x="66.05" y="407.45" width="1.50" height="1.50" fill="#2a2a2a" />
<rect x="66.05" y="410.60" width="1.50" height="1.50" fill="#2a2a2a" />
<line x1="78.00" y1="394.10" x2="78.00" y2="397.70" stroke="#606060" stroke-width="0.75" />
<line x1="78.00" y1="414.95" x2="78.00" y2="432.32" stroke="#606060" stroke-width="0.75" />
<line x1="78.00" y1="397.70" x2="78.00" y2="414.95" stroke="#bbbbbb" stroke-width="0.5" stroke-dasharray="0.8,0.8"/>
<rect x="77.25" y="401.15" width="1.50" height="1.50" fill="#2a2a2a" />
<rect x="77.25" y="404.30" width="1.50" height="1.50" fill="#2a2a2a" />
<rect x="77.25" y="407.45" width="1.50" height="1.50" fill="#2a2a2a" />
<rect x="77.25" y="410.60" width="1.50" height="1.50" fill="#2a2a2a" />
<line x1="90.20" y1="394.10" x2="90.20" y2="397.70" stroke="#606060" stroke-width="0.75" />
<line x1="90.20" y1="414.95" x2="90.20" y2="430.14" stroke="#606060" stroke-width="0.75" />
<line x1="90.20" y1="397.70" x2="90.20" y2="414.95" stroke="#bbbbbb" stroke-width="0.5" stroke-dasharray="0.8,0.8"/>
<rect x="89.45" y="401.15" width="1.50" height="1.50" fill="#2a2a2a" />
<rect x="89.45" y="404.30" width="1.50" height="1.50" fill="#2a2a2a" />
<rect x="89.45" y="407.45" width="1.50" height="1.50" fill="#2a2a2a" />
<rect x="89.45" y="410.60" width="1.50" height="1.50" fill="#2a2a2a" />
<line x1="101.10" y1="394.10" x2="101.10" y2="397.70" stroke="#606060" stroke-width="0.75" />
<line x1="101.10" y1="414.95" x2="101.10" y2="442.70" stroke="#606060" stroke-width="0.75" />
<line x1="101.10" y1="397.70" x2="101.10" y2="414.95" stroke="#bbbbbb" stroke-width="0.5" stroke-dasharray="0.8,0.8"/>
<rect x="100.35" y="401.15" width="1.50" height="1.50" fill="#2a2a2a" />
<rect x="100.35" y="404.30" width="1.50" height="1.50" fill="#2a2a2a" />
<rect x="100.35" y="407.45" width="1.50" height="1.50" fill="#2a2a2a" />
<rect x="100.35" y="410.60" width="1.50" height="1.50" fill="#2a2a2a" />
<rect x="120.50" y="395.10" width="4.40" height="4.40" fill="#b5b5b5" />
<text x="127.71" y="399.80" font-size="6.9" fill="#444" textLength="40.38" lengthAdjust="spacingAndGlyphs" stroke="#444" stroke-width="0.1" >Untransduced</text>
<rect x="120.50" y="407.20" width="4.40" height="4.40" fill="#e5731e" />
<text x="127.88" y="411.90" font-size="6.9" fill="#444" textLength="68.89" lengthAdjust="spacingAndGlyphs" stroke="#444" stroke-width="0.1" >CD371-CAR (AS83478)</text>
<rect x="120.50" y="418.80" width="4.40" height="4.40" fill="#f5a02a" />
<text x="127.87" y="423.50" font-size="6.9" fill="#444" textLength="60.70" lengthAdjust="spacingAndGlyphs" stroke="#444" stroke-width="0.1" >CD371-CAR (44544)</text>
<rect x="120.50" y="430.70" width="4.40" height="4.40" fill="#fac48e" />
<text x="127.87" y="435.40" font-size="6.9" fill="#444" textLength="55.30" lengthAdjust="spacingAndGlyphs" stroke="#444" stroke-width="0.1" >CD371-CAR (M26)</text>
<rect x="120.50" y="442.70" width="4.40" height="4.40" fill="#2a8bc2" />
<text x="127.87" y="447.40" font-size="6.9" fill="#444" textLength="32.59" lengthAdjust="spacingAndGlyphs" stroke="#444" stroke-width="0.1" >CD19-CAR</text>
<text x="220.39" y="247.70" font-size="12.4" font-weight="bold" fill="#0a0a0a">F</text>
<rect x="243.6" y="253.6" width="255.6" height="61.1" fill="#fff" stroke="#2e2e2e" stroke-width="1"/>
<rect x="244.10" y="254.10" width="56.00" height="16.50" fill="#7d5fb2" />
<line x1="300.60" y1="253.60" x2="300.60" y2="314.70" stroke="#2e2e2e" stroke-width="1.0" />
<text x="249.21" y="261.30" font-size="6.6" fill="#f4effa" font-style="italic" textLength="17.08" lengthAdjust="spacingAndGlyphs" stroke="#f4effa" stroke-width="0.05">DUX4</text>
<text x="266.29" y="261.30" font-size="6.6" fill="#f4effa" textLength="28.81" lengthAdjust="spacingAndGlyphs" stroke="#f4effa" stroke-width="0.05">-r-13-PDX</text>
<text x="263.00" y="268.10" font-size="6.6" fill="#f4effa" font-style="italic" textLength="18.49" lengthAdjust="spacingAndGlyphs" stroke="#f4effa" stroke-width="0.1" >in vivo</text>
<text x="249.49" y="286.00" font-size="6.9" fill="#c2c2c2" textLength="42.22" lengthAdjust="spacingAndGlyphs" stroke="#c2c2c2" stroke-width="0.1" >Untransduced</text>
<text x="254.03" y="293.10" font-size="6.9" fill="#4aaade" font-style="italic" textLength="33.65" lengthAdjust="spacingAndGlyphs" stroke="#4aaade" stroke-width="0.1" >CD19-CAR</text>
<text x="252.14" y="300.30" font-size="6.9" fill="#f4b15c" font-style="italic" textLength="36.14" lengthAdjust="spacingAndGlyphs" stroke="#f4b15c" stroke-width="0.1" >CD371-CAR</text>
<path d="M309.5,290.5 C312,287 315,285.3 319,285.8 C323,286.3 326,288.6 330,289.3 C333,289.8 336,289.8 339,289.2" fill="none" stroke="#ecc7bb" stroke-width="1.7" stroke-linecap="round"/>
<path d="M338.6,289.6 C337.5,282 342,276 350.5,274 C355,273 359.5,273.3 363.5,274.5 C368,275 373,275.5 379.6,277.6 C378.6,279.6 376,280.8 373,281.3 C371.5,284.5 369.5,286 368.2,287 L368.6,294.5 L370.5,296 L367.5,296.2 L365.8,291.5 C361,293 356,294 352.5,294.2 L355,296.8 L351,297.2 L347.5,294 C344,293.8 340.5,292.5 338.6,289.6 Z" fill="#e4e4e4" stroke="#c4c4c4" stroke-width="0.7"/>
<circle cx="365.80" cy="273.80" r="2.90" fill="#f5c9ae" stroke="#e6ad90" stroke-width="0.4"/>
<circle cx="371.00" cy="276.80" r="0.80" fill="#444" />
<circle cx="379.30" cy="277.70" r="0.80" fill="#e7a9a0" />
<g transform="translate(312.1,265.8) rotate(45.5)"><rect x="-1.0" y="-3.4" width="2.0" height="6.8" rx="0.8" fill="#fff" stroke="#1a1a1a" stroke-width="0.9"/><line x1="1" y1="0" x2="6" y2="0" stroke="#1a1a1a" stroke-width="1.5"/><rect x="6.0" y="-4.3" width="1.6" height="8.6" rx="0.6" fill="#fff" stroke="#1a1a1a" stroke-width="0.9"/><rect x="7.6" y="-2.7" width="13.6" height="5.4" fill="#fff" stroke="#1a1a1a" stroke-width="1.0"/><path d="M10.5,-2.7 V-0.6 M13,-2.7 V-0.6 M15.5,-2.7 V-0.6 M18,-2.7 V-0.6" stroke="#1a1a1a" stroke-width="0.8"/><path d="M21.2,-1.6 L23.2,-0.6 L23.2,0.6 L21.2,1.6 Z" fill="#fff" stroke="#1a1a1a" stroke-width="0.8"/><line x1="23.2" y1="0" x2="31.5" y2="0" stroke="#1a1a1a" stroke-width="0.6"/></g>
<text x="330.50" y="308.90" font-size="6.9" fill="#444" textLength="47.23" lengthAdjust="spacingAndGlyphs" stroke="#444" stroke-width="0.1" >n = 5 per group</text>
<line x1="399.10" y1="284.30" x2="486.00" y2="284.30" stroke="#2e2e2e" stroke-width="1.0" />
<line x1="399.10" y1="281.90" x2="399.10" y2="286.60" stroke="#2e2e2e" stroke-width="1.1" />
<line x1="442.90" y1="281.90" x2="442.90" y2="286.60" stroke="#2e2e2e" stroke-width="1.1" />
<line x1="486.00" y1="279.20" x2="486.00" y2="289.20" stroke="#2e2e2e" stroke-width="1.3" />
<text x="391.37" y="267.80" font-size="6.7" fill="#444" textLength="18.61" lengthAdjust="spacingAndGlyphs" stroke="#444" stroke-width="0.1" >Tumor</text>
<text x="387.94" y="275.20" font-size="6.7" fill="#444" textLength="25.77" lengthAdjust="spacingAndGlyphs" stroke="#444" stroke-width="0.1" >injection</text>
<text x="426.67" y="267.80" font-size="6.7" fill="#444" textLength="31.83" lengthAdjust="spacingAndGlyphs" stroke="#444" stroke-width="0.1" >CAR-T cell</text>
<text x="430.13" y="275.20" font-size="6.7" fill="#444" textLength="24.92" lengthAdjust="spacingAndGlyphs" stroke="#444" stroke-width="0.1" >infusion</text>
<text x="479.95" y="267.30" font-size="6.7" fill="#444" textLength="12.15" lengthAdjust="spacingAndGlyphs" stroke="#444" stroke-width="0.1" >End</text>
<text x="478.48" y="275.10" font-size="6.7" fill="#444" textLength="15.25" lengthAdjust="spacingAndGlyphs" stroke="#444" stroke-width="0.1" >point</text>
<text x="392.97" y="298.60" font-size="6.7" fill="#444" textLength="11.72" lengthAdjust="spacingAndGlyphs" stroke="#444" stroke-width="0.1" >Day</text>
<text x="397.15" y="306.60" font-size="6.7" fill="#444" textLength="3.90" lengthAdjust="spacingAndGlyphs" stroke="#444" stroke-width="0.1" >0</text>
<text x="436.67" y="298.60" font-size="6.7" fill="#444" textLength="11.72" lengthAdjust="spacingAndGlyphs" stroke="#444" stroke-width="0.1" >Day</text>
<text x="439.07" y="306.60" font-size="6.7" fill="#444" stroke="#444" stroke-width="0.1" >21</text>
<text x="479.87" y="298.60" font-size="6.7" fill="#444" textLength="11.72" lengthAdjust="spacingAndGlyphs" stroke="#444" stroke-width="0.1" >Day</text>
<text x="482.37" y="306.60" font-size="6.7" fill="#444" textLength="7.31" lengthAdjust="spacingAndGlyphs" stroke="#444" stroke-width="0.1" >35</text>
<text x="220.50" y="337.60" font-size="12.4" font-weight="bold" fill="#0a0a0a">G</text>
<text x="256.20" y="348.10" font-size="8.4" fill="#333" textLength="59.90" lengthAdjust="spacingAndGlyphs" stroke="#333" stroke-width="0.1" >ALL cells in BM</text>
<text x="0" y="0" font-size="8.8" fill="#444" textLength="37.53" lengthAdjust="spacingAndGlyphs" stroke="#444" stroke-width="0.1" transform="translate(230.10 417.75) rotate(-90)">Cell number</text>
<line x1="256.30" y1="353.70" x2="256.30" y2="445.20" stroke="#1e1e1e" stroke-width="1.2" />
<line x1="253.50" y1="444.60" x2="256.30" y2="444.60" stroke="#222" stroke-width="1.0" />
<text x="247.19" y="446.90" font-size="6.5" fill="#444" textLength="4.07" lengthAdjust="spacingAndGlyphs" stroke="#444" stroke-width="0.1" >0</text>
<line x1="253.50" y1="427.00" x2="256.30" y2="427.00" stroke="#222" stroke-width="1.0" />
<text x="240.08" y="429.30" font-size="6.5" fill="#444" textLength="11.18" lengthAdjust="spacingAndGlyphs" stroke="#444" stroke-width="0.1" >500</text>
<line x1="253.50" y1="409.40" x2="256.30" y2="409.40" stroke="#222" stroke-width="1.0" />
<text x="236.30" y="411.70" font-size="6.5" fill="#444" textLength="14.94" lengthAdjust="spacingAndGlyphs" stroke="#444" stroke-width="0.1" >1000</text>
<line x1="253.50" y1="391.80" x2="256.30" y2="391.80" stroke="#222" stroke-width="1.0" />
<text x="236.30" y="394.10" font-size="6.5" fill="#444" textLength="14.94" lengthAdjust="spacingAndGlyphs" stroke="#444" stroke-width="0.1" >1500</text>
<line x1="253.50" y1="374.20" x2="256.30" y2="374.20" stroke="#222" stroke-width="1.0" />
<text x="236.47" y="376.50" font-size="6.5" fill="#444" textLength="14.76" lengthAdjust="spacingAndGlyphs" stroke="#444" stroke-width="0.1" >2000</text>
<line x1="253.50" y1="356.60" x2="256.30" y2="356.60" stroke="#222" stroke-width="1.0" />
<text x="236.47" y="358.90" font-size="6.5" fill="#444" textLength="14.76" lengthAdjust="spacingAndGlyphs" stroke="#444" stroke-width="0.1" >2500</text>
<line x1="256.30" y1="444.60" x2="315.00" y2="444.60" stroke="#1e1e1e" stroke-width="1.3" />
<line x1="268.30" y1="357.90" x2="303.20" y2="357.90" stroke="#555" stroke-width="0.8" />
<line x1="268.30" y1="357.90" x2="268.30" y2="360.20" stroke="#555" stroke-width="0.8" />
<line x1="285.90" y1="357.90" x2="285.90" y2="360.20" stroke="#555" stroke-width="0.8" />
<line x1="303.20" y1="357.90" x2="303.20" y2="360.20" stroke="#555" stroke-width="0.8" />
<line x1="285.90" y1="360.20" x2="285.90" y2="432.80" stroke="#9a9a9a" stroke-width="0.9" />
<line x1="303.20" y1="360.20" x2="303.20" y2="432.80" stroke="#9a9a9a" stroke-width="0.9" />
<circle cx="285.90" cy="368.90" r="0.85" fill="#333" />
<circle cx="285.90" cy="373.30" r="0.85" fill="#333" />
<circle cx="303.20" cy="371.60" r="0.85" fill="#333" />
<line x1="268.30" y1="374.30" x2="268.30" y2="431.30" stroke="#777" stroke-width="0.9" />
<line x1="265.30" y1="374.30" x2="271.30" y2="374.30" stroke="#777" stroke-width="0.9" />
<line x1="265.30" y1="431.30" x2="271.30" y2="431.30" stroke="#777" stroke-width="0.9" />
<line x1="262.30" y1="402.70" x2="274.30" y2="402.70" stroke="#777" stroke-width="0.9" />
<circle cx="268.20" cy="366.20" r="1.55" fill="#a5a5a5" stroke="#555" stroke-width="0.75"/>
<circle cx="268.40" cy="378.60" r="1.55" fill="#a5a5a5" stroke="#555" stroke-width="0.75"/>
<circle cx="268.00" cy="417.30" r="1.55" fill="#a5a5a5" stroke="#555" stroke-width="0.75"/>
<circle cx="265.40" cy="427.40" r="1.55" fill="#a5a5a5" stroke="#555" stroke-width="0.75"/>
<circle cx="271.00" cy="424.50" r="1.55" fill="#a5a5a5" stroke="#555" stroke-width="0.75"/>
<circle cx="285.80" cy="438.80" r="1.55" fill="#f6dcae" stroke="#8a6a35" stroke-width="0.75"/>
<circle cx="286.40" cy="441.40" r="1.55" fill="#f6dcae" stroke="#8a6a35" stroke-width="0.75"/>
<circle cx="281.50" cy="443.40" r="1.55" fill="#f6dcae" stroke="#8a6a35" stroke-width="0.75"/>
<circle cx="284.20" cy="443.60" r="1.55" fill="#f6dcae" stroke="#8a6a35" stroke-width="0.75"/>
<circle cx="288.00" cy="443.40" r="1.55" fill="#f6dcae" stroke="#8a6a35" stroke-width="0.75"/>
<circle cx="290.50" cy="443.40" r="1.55" fill="#f6dcae" stroke="#8a6a35" stroke-width="0.75"/>
<circle cx="298.40" cy="440.80" r="1.55" fill="#c5dcef" stroke="#3d6d93" stroke-width="0.75"/>
<circle cx="301.00" cy="441.20" r="1.55" fill="#c5dcef" stroke="#3d6d93" stroke-width="0.75"/>
<circle cx="303.80" cy="441.60" r="1.55" fill="#c5dcef" stroke="#3d6d93" stroke-width="0.75"/>
<circle cx="306.80" cy="442.20" r="1.55" fill="#c5dcef" stroke="#3d6d93" stroke-width="0.75"/>
<circle cx="309.60" cy="442.60" r="1.55" fill="#c5dcef" stroke="#3d6d93" stroke-width="0.75"/>
<text x="332.09" y="337.70" font-size="12.4" font-weight="bold" fill="#0a0a0a">H</text>
<text x="355.90" y="347.90" font-size="8.4" fill="#333" textLength="57.46" lengthAdjust="spacingAndGlyphs" stroke="#333" stroke-width="0.1" >ALL cells in PB</text>
<text x="0" y="0" font-size="8.4" fill="#444" textLength="38.07" lengthAdjust="spacingAndGlyphs" stroke="#444" stroke-width="0.1" transform="translate(339.00 418.74) rotate(-90)">% of singlets</text>
<line x1="354.50" y1="353.70" x2="354.50" y2="445.50" stroke="#1e1e1e" stroke-width="1.2" />
<line x1="351.70" y1="444.90" x2="354.50" y2="444.90" stroke="#222" stroke-width="1.0" />
<text x="344.85" y="447.20" font-size="6.5" fill="#444" textLength="3.90" lengthAdjust="spacingAndGlyphs" stroke="#444" stroke-width="0.1" >0</text>
<line x1="351.70" y1="422.88" x2="354.50" y2="422.88" stroke="#222" stroke-width="1.0" />
<text x="344.51" y="425.18" font-size="6.5" fill="#444" textLength="4.35" lengthAdjust="spacingAndGlyphs" stroke="#444" stroke-width="0.1" >1</text>
<line x1="351.70" y1="400.86" x2="354.50" y2="400.86" stroke="#222" stroke-width="1.0" />
<text x="344.73" y="403.16" font-size="6.5" fill="#444" textLength="4.11" lengthAdjust="spacingAndGlyphs" stroke="#444" stroke-width="0.1" >2</text>
<line x1="351.70" y1="378.84" x2="354.50" y2="378.84" stroke="#222" stroke-width="1.0" />
<text x="344.85" y="381.14" font-size="6.5" fill="#444" textLength="3.94" lengthAdjust="spacingAndGlyphs" stroke="#444" stroke-width="0.1" >3</text>
<line x1="351.70" y1="356.82" x2="354.50" y2="356.82" stroke="#222" stroke-width="1.0" />
<text x="344.97" y="359.12" font-size="6.5" fill="#444" textLength="3.71" lengthAdjust="spacingAndGlyphs" stroke="#444" stroke-width="0.1" >4</text>
<line x1="354.50" y1="444.90" x2="412.00" y2="444.90" stroke="#1e1e1e" stroke-width="1.3" />
<line x1="366.30" y1="357.30" x2="402.00" y2="357.30" stroke="#555" stroke-width="0.8" />
<line x1="366.30" y1="357.30" x2="366.30" y2="359.60" stroke="#555" stroke-width="0.8" />
<line x1="384.70" y1="357.30" x2="384.70" y2="359.60" stroke="#555" stroke-width="0.8" />
<line x1="402.00" y1="357.30" x2="402.00" y2="359.60" stroke="#555" stroke-width="0.8" />
<line x1="384.70" y1="359.60" x2="384.70" y2="437.70" stroke="#9a9a9a" stroke-width="0.9" />
<line x1="402.00" y1="359.60" x2="402.00" y2="437.70" stroke="#9a9a9a" stroke-width="0.9" />
<circle cx="384.70" cy="367.10" r="0.85" fill="#333" />
<circle cx="384.70" cy="370.60" r="0.85" fill="#333" />
<circle cx="402.00" cy="367.10" r="0.85" fill="#333" />
<circle cx="402.00" cy="370.60" r="0.85" fill="#333" />
<line x1="366.50" y1="380.40" x2="366.50" y2="430.60" stroke="#777" stroke-width="0.9" />
<line x1="363.50" y1="380.40" x2="369.50" y2="380.40" stroke="#777" stroke-width="0.9" />
<line x1="363.50" y1="430.60" x2="369.50" y2="430.60" stroke="#777" stroke-width="0.9" />
<line x1="360.00" y1="405.80" x2="373.00" y2="405.80" stroke="#777" stroke-width="0.9" />
<circle cx="366.30" cy="361.10" r="1.55" fill="#e6e6e6" stroke="#555" stroke-width="0.75"/>
<circle cx="366.60" cy="405.60" r="1.55" fill="#e6e6e6" stroke="#555" stroke-width="0.75"/>
<circle cx="366.20" cy="415.60" r="1.55" fill="#e6e6e6" stroke="#555" stroke-width="0.75"/>
<circle cx="366.40" cy="419.60" r="1.55" fill="#e6e6e6" stroke="#555" stroke-width="0.75"/>
<circle cx="366.10" cy="423.20" r="1.55" fill="#e6e6e6" stroke="#555" stroke-width="0.75"/>
<circle cx="383.40" cy="440.20" r="1.55" fill="#f6dcae" stroke="#8a6a35" stroke-width="0.75"/>
<circle cx="380.80" cy="443.40" r="1.55" fill="#f6dcae" stroke="#8a6a35" stroke-width="0.75"/>
<circle cx="383.40" cy="443.60" r="1.55" fill="#f6dcae" stroke="#8a6a35" stroke-width="0.75"/>
<circle cx="386.00" cy="443.40" r="1.55" fill="#f6dcae" stroke="#8a6a35" stroke-width="0.75"/>
<circle cx="388.60" cy="443.40" r="1.55" fill="#f6dcae" stroke="#8a6a35" stroke-width="0.75"/>
<circle cx="400.20" cy="441.80" r="1.55" fill="#c5dcef" stroke="#3d6d93" stroke-width="0.75"/>
<circle cx="397.60" cy="443.20" r="1.55" fill="#c5dcef" stroke="#3d6d93" stroke-width="0.75"/>
<circle cx="400.60" cy="443.60" r="1.55" fill="#c5dcef" stroke="#3d6d93" stroke-width="0.75"/>
<circle cx="403.40" cy="443.40" r="1.55" fill="#c5dcef" stroke="#3d6d93" stroke-width="0.75"/>
<circle cx="406.00" cy="443.20" r="1.55" fill="#c5dcef" stroke="#3d6d93" stroke-width="0.75"/>
<text x="427.69" y="337.70" font-size="12.4" font-weight="bold" fill="#0a0a0a">I</text>
<text x="454.79" y="347.50" font-size="8.4" fill="#333" textLength="56.63" lengthAdjust="spacingAndGlyphs" stroke="#333" stroke-width="0.1" >Spleen weight</text>
<text x="0" y="0" font-size="8.6" fill="#444" textLength="38.91" lengthAdjust="spacingAndGlyphs" stroke="#444" stroke-width="0.1" transform="translate(435.20 418.10) rotate(-90)">Weight (mg)</text>
<line x1="458.00" y1="353.70" x2="458.00" y2="445.20" stroke="#1e1e1e" stroke-width="1.2" />
<line x1="455.20" y1="444.60" x2="458.00" y2="444.60" stroke="#222" stroke-width="1.0" />
<text x="447.37" y="446.90" font-size="6.5" fill="#444" textLength="3.67" lengthAdjust="spacingAndGlyphs" stroke="#444" stroke-width="0.1" >0</text>
<line x1="455.20" y1="415.17" x2="458.00" y2="415.17" stroke="#222" stroke-width="1.0" />
<text x="440.74" y="417.47" font-size="6.5" fill="#444" textLength="10.30" lengthAdjust="spacingAndGlyphs" stroke="#444" stroke-width="0.1" >100</text>
<line x1="455.20" y1="385.73" x2="458.00" y2="385.73" stroke="#222" stroke-width="1.0" />
<text x="440.90" y="388.03" font-size="6.5" fill="#444" textLength="10.14" lengthAdjust="spacingAndGlyphs" stroke="#444" stroke-width="0.1" >200</text>
<line x1="455.20" y1="356.30" x2="458.00" y2="356.30" stroke="#222" stroke-width="1.0" />
<text x="440.99" y="358.60" font-size="6.5" fill="#444" textLength="10.04" lengthAdjust="spacingAndGlyphs" stroke="#444" stroke-width="0.1" >300</text>
<line x1="458.00" y1="444.60" x2="508.80" y2="444.60" stroke="#1e1e1e" stroke-width="1.3" />
<line x1="467.80" y1="360.90" x2="498.40" y2="360.90" stroke="#555" stroke-width="0.8" />
<line x1="467.80" y1="360.90" x2="467.80" y2="363.20" stroke="#555" stroke-width="0.8" />
<line x1="483.00" y1="360.90" x2="483.00" y2="363.20" stroke="#555" stroke-width="0.8" />
<line x1="498.40" y1="360.90" x2="498.40" y2="363.20" stroke="#555" stroke-width="0.8" />
<line x1="482.40" y1="374.50" x2="482.40" y2="407.20" stroke="#8a8a8a" stroke-width="0.8" />
<circle cx="483.00" cy="367.40" r="0.85" fill="#333" />
<circle cx="483.00" cy="371.50" r="0.85" fill="#333" />
<circle cx="498.40" cy="370.60" r="0.85" fill="#333" />
<line x1="498.40" y1="377.20" x2="498.40" y2="382.60" stroke="#8a8a8a" stroke-width="0.8" />
<line x1="467.80" y1="375.40" x2="467.80" y2="402.80" stroke="#777" stroke-width="0.9" />
<line x1="464.80" y1="375.40" x2="470.80" y2="375.40" stroke="#777" stroke-width="0.9" />
<line x1="464.80" y1="402.80" x2="470.80" y2="402.80" stroke="#777" stroke-width="0.9" />
<line x1="463.60" y1="387.80" x2="472.00" y2="387.80" stroke="#777" stroke-width="0.9" />
<line x1="498.40" y1="397.80" x2="498.40" y2="421.30" stroke="#49708f" stroke-width="0.9" />
<line x1="495.20" y1="397.80" x2="501.60" y2="397.80" stroke="#49708f" stroke-width="0.9" />
<line x1="495.20" y1="421.30" x2="501.60" y2="421.30" stroke="#49708f" stroke-width="0.9" />
<line x1="493.40" y1="409.30" x2="503.40" y2="409.30" stroke="#49708f" stroke-width="0.9" />
<circle cx="467.80" cy="371.50" r="1.55" fill="#9a9a9a" stroke="#4a4a4a" stroke-width="0.75"/>
<circle cx="467.80" cy="381.10" r="1.55" fill="#9a9a9a" stroke="#4a4a4a" stroke-width="0.75"/>
<circle cx="464.40" cy="390.80" r="1.55" fill="#9a9a9a" stroke="#4a4a4a" stroke-width="0.75"/>
<circle cx="472.00" cy="390.80" r="1.55" fill="#9a9a9a" stroke="#4a4a4a" stroke-width="0.75"/>
<circle cx="467.90" cy="408.90" r="1.55" fill="#9a9a9a" stroke="#4a4a4a" stroke-width="0.75"/>
<circle cx="479.40" cy="414.10" r="1.55" fill="#dcae6c" stroke="#6a4a20" stroke-width="0.75"/>
<circle cx="482.40" cy="415.20" r="1.55" fill="#dcae6c" stroke="#6a4a20" stroke-width="0.75"/>
<circle cx="486.60" cy="415.20" r="1.55" fill="#dcae6c" stroke="#6a4a20" stroke-width="0.75"/>
<circle cx="484.50" cy="418.30" r="1.55" fill="#dcae6c" stroke="#6a4a20" stroke-width="0.75"/>
<circle cx="481.30" cy="421.10" r="1.55" fill="#dcae6c" stroke="#6a4a20" stroke-width="0.75"/>
<circle cx="498.40" cy="388.90" r="1.55" fill="#6d9cc8" stroke="#2d4f6e" stroke-width="0.75"/>
<circle cx="494.70" cy="412.00" r="1.55" fill="#6d9cc8" stroke="#2d4f6e" stroke-width="0.75"/>
<circle cx="502.10" cy="412.00" r="1.55" fill="#6d9cc8" stroke="#2d4f6e" stroke-width="0.75"/>
<circle cx="498.40" cy="414.10" r="1.55" fill="#6d9cc8" stroke="#2d4f6e" stroke-width="0.75"/>
<circle cx="498.40" cy="418.00" r="1.55" fill="#6d9cc8" stroke="#2d4f6e" stroke-width="0.75"/>
<circle cx="301.30" cy="458.00" r="1.40" fill="#a8a8a8" />
<text x="306.10" y="460.30" font-size="6.7" fill="#444" stroke="#444" stroke-width="0.1" >Untransduced</text>
<circle cx="356.30" cy="458.00" r="1.40" fill="#e7a24e" />
<text x="360.67" y="460.30" font-size="6.7" fill="#444" textLength="61.61" lengthAdjust="spacingAndGlyphs" stroke="#444" stroke-width="0.1" >CD371-CAR (44544)</text>
<circle cx="429.50" cy="458.20" r="1.40" fill="#3d86c0" />
<text x="434.26" y="460.30" font-size="6.7" fill="#444" textLength="34.12" lengthAdjust="spacingAndGlyphs" stroke="#444" stroke-width="0.1" >CD19-CAR</text>
<rect x="0.5" y="0.5" width="519" height="468" fill="none" stroke="#4a4a4a" stroke-width="1"/>
</svg>
</body></html>
